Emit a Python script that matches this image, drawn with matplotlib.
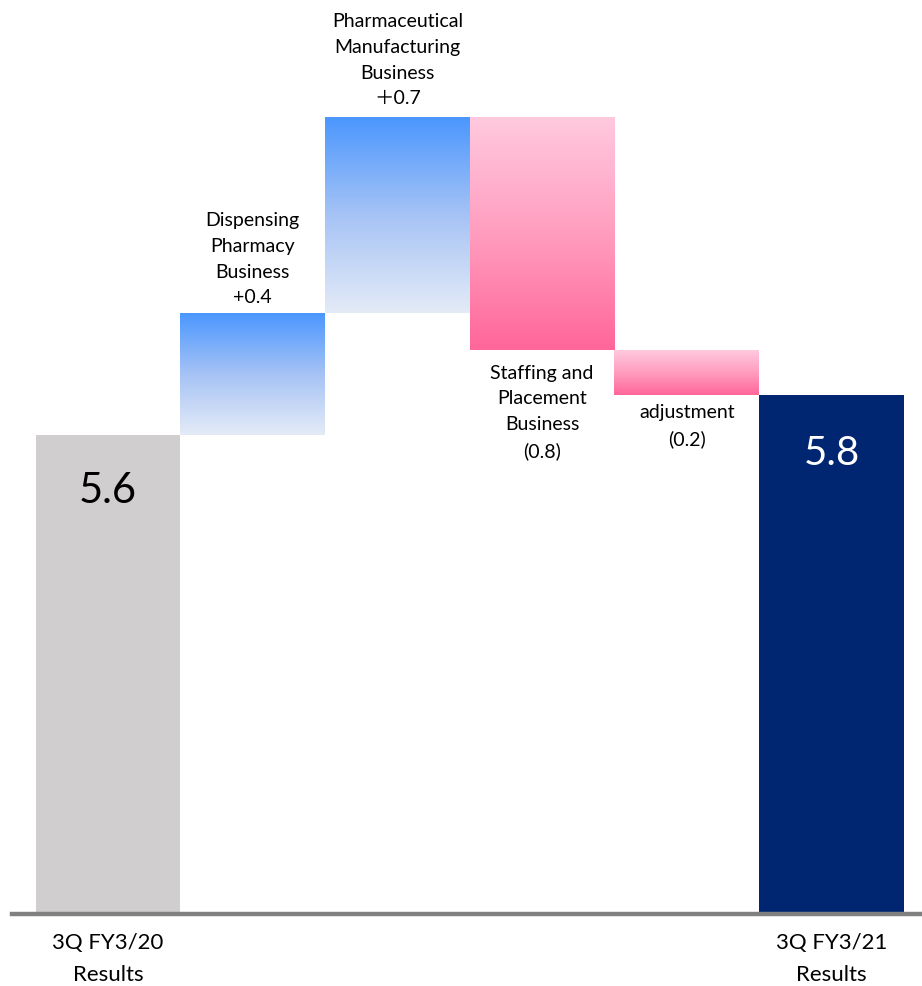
import numpy as np
import matplotlib.pyplot as plt
from matplotlib.colors import LinearSegmentedColormap

plt.rcParams['font.family'] = ['Lato', 'Noto Sans CJK JP', 'DejaVu Sans']

# values (estimated, unrounded) and labels
start_value = 5.62
end_value = 5.765
deltas = [0.435, 0.70, -0.83, -0.16]
delta_labels = ['Dispensing\nPharmacy\nBusiness\n+0.4',
                'Pharmaceutical\nManufacturing\nBusiness\n\uff0b0.7',
                'Staffing and\nPlacement\nBusiness\n(0.8)',
                'adjustment\n(0.2)']
start_text = '5.6'
end_text = '5.8'
category_labels = ['3Q FY3/20\nResults', '3Q FY3/21\nResults']

# label gap from the bar edge, in pixels
label_gaps = [8, 11, 14, 8]

y_min = 3.91
y_max = y_min + 915 / 280

fig = plt.figure(figsize=(9.22, 9.87), dpi=100)
ax = fig.add_axes([0, 72 / 987, 1, 915 / 987])

blue = LinearSegmentedColormap.from_list('blue', ['#e4ebf7', '#a6c3f5', '#4b97ff'])
pink = LinearSegmentedColormap.from_list('pink', ['#ff6699', '#ff9dbf', '#ffc9de'])
grad = np.linspace(0, 1, 256).reshape(-1, 1)

# start bar
ax.bar(0, start_value - y_min, bottom=y_min, width=1.0, color='#d0cece', zorder=1)
ax.annotate(start_text, (0, start_value), xytext=(0, -55), textcoords='offset pixels',
            ha='center', va='center', fontsize=30, color='black')

# floating bars
level = start_value
for i, (d, lab, gap) in enumerate(zip(deltas, delta_labels, label_gaps), start=1):
    lo, hi = sorted([level, level + d])
    cmap = blue if d > 0 else pink
    ax.imshow(grad, cmap=cmap, origin='lower', aspect='auto',
              extent=(i - 0.5, i + 0.5, lo, hi), zorder=1)
    if d > 0:
        ax.annotate(lab, (i, hi), xytext=(0, gap), textcoords='offset pixels',
                    ha='center', va='bottom', fontsize=14, linespacing=1.62)
    else:
        ax.annotate(lab, (i, lo), xytext=(0, -gap), textcoords='offset pixels',
                    ha='center', va='top', fontsize=14, linespacing=1.62)
    level += d

# end bar
n = len(deltas) + 1
ax.bar(n, end_value - y_min, bottom=y_min, width=1.0, color='#002672', zorder=1)
ax.annotate(end_text, (n, end_value), xytext=(0, -58), textcoords='offset pixels',
            ha='center', va='center', fontsize=29, color='white')

# baseline
ax.axhline(y_min, xmin=12 / 922, xmax=1, color='#808080', lw=3.2, zorder=3, clip_on=False)

ax.set_xlim(-108 / 144.7, (922 - 108) / 144.7)
ax.set_ylim(y_min, y_max)
ax.axis('off')

for x, lab in zip([0, n], category_labels):
    ax.annotate(lab, (x, y_min), xytext=(0, -18), textcoords='offset pixels',
                ha='center', va='top', fontsize=16, linespacing=1.72,
                annotation_clip=False)

fig.savefig('out.png', dpi=100)
